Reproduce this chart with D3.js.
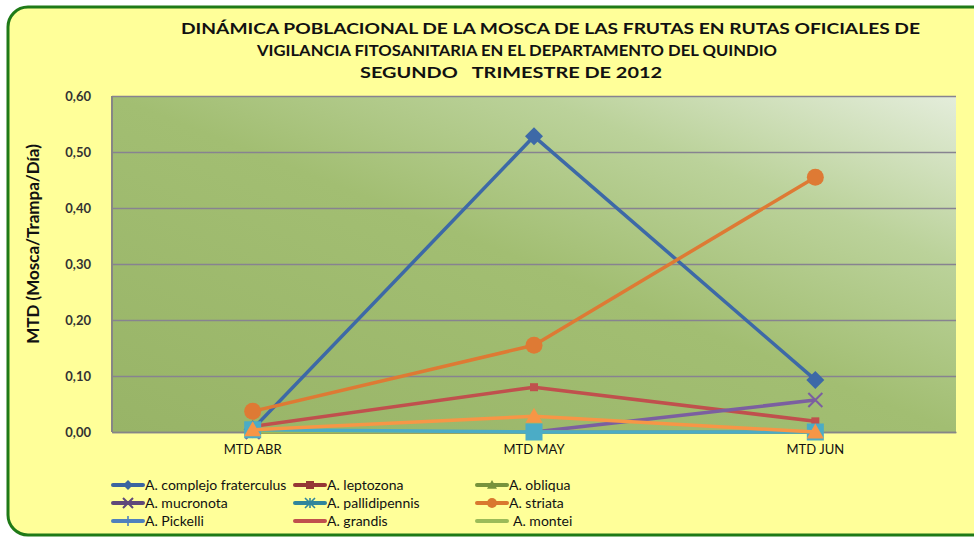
<!DOCTYPE html>
<html><head><meta charset="utf-8">
<script src="https://cdn.jsdelivr.net/npm/d3@7"></script>
<style>
html,body{margin:0;padding:0;background:#fff;}
svg{display:block;font-family:Lato,"Open Sans",sans-serif;}
text{white-space:pre;}
</style></head>
<body>
<svg id="chart" width="974" height="538"></svg>
<script>
// ---------- DATA ----------
const categories = ["MTD ABR", "MTD MAY", "MTD JUN"];
const yTicks = [0, 0.1, 0.2, 0.3, 0.4, 0.5, 0.6];
const titleLines = [
  "DINÁMICA POBLACIONAL DE LA MOSCA DE LAS FRUTAS EN RUTAS OFICIALES DE",
  "VIGILANCIA FITOSANITARIA EN EL DEPARTAMENTO DEL QUINDIO",
  "SEGUNDO   TRIMESTRE DE 2012"
];
const yTitle = "MTD (Mosca/Trampa/Día)";
const seriesNames = ["A. complejo fraterculus","A. leptozona","A. obliqua","A. mucronota","A. pallidipennis","A. striata","A. Pickelli","A. grandis","A. montei","Serie 10","Serie 11"];
const complejoFraterculus = [0.005, 0.528, 0.093];
const leptozona = [0.010, 0.080, 0.019];
const obliqua = [0, 0, 0];
const mucronota = [0, 0, 0.057];
const pallidipennis = [0, 0, 0];
const striata = [0.037, 0.155, 0.455];
const pickelli = [0, 0, 0];
const grandis = [0, 0, 0];
const montei = [0, 0, 0];
const serie10 = [0.004, 0, 0];
const serie11 = [0.004, 0.028, 0];
const seriesValues = [complejoFraterculus, leptozona, obliqua, mucronota, pallidipennis, striata, pickelli, grandis, montei, serie10, serie11];
const seriesInLegend = [true,true,true,true,true,true,true,true,true,false,false];

// ---------- STYLES ----------
const lineColors = ["#3D69A7","#C0504D","#77933C","#7B5FA0","#31859C","#DE7A34","#4F81BD","#C0504D","#9BBB59","#4BACC6","#F79646"];
const legendColors = ["#3B64A0","#953735","#77933C","#5F497A","#31859C","#D9782F","#4F81BD","#C0504D","#9BBB59"];
const markers = ["diamond","square","triangle","x","star","circle","plus","none","none","square","triangle"];
const markerSize = [9,4,7,7,6,8.5,6,0,0,8.5,8.5];

const svg = d3.select("#chart");
const W = 974, H = 538;
const plot = {left:112, right:956, top:96, bottom:432};

// background
svg.append("rect").attr("width",W).attr("height",H).attr("fill","#fff");
svg.append("rect").attr("x",8).attr("y",7).attr("width",1000).attr("height",528)
  .attr("rx",20).attr("fill","#FFFF99").attr("stroke","#1F7A17").attr("stroke-width",3);

const defs = svg.append("defs");
const grad = defs.append("linearGradient").attr("id","pg")
  .attr("x1",0).attr("y1",1).attr("x2",1).attr("y2",0);
[[0,"#98B467"],[0.5,"#A2BE72"],[0.75,"#BBD29A"],[1,"#E4EDDB"]].forEach(s=>
  grad.append("stop").attr("offset",s[0]).attr("stop-color",s[1]));

// scales
const x = d3.scaleBand().domain(categories).range([plot.left, plot.right]);
const cx = c => x(c) + x.bandwidth()/2;
const y = d3.scaleLinear().domain([0,0.6]).range([plot.bottom, plot.top]);

svg.append("rect").attr("x",plot.left).attr("y",plot.top)
  .attr("width",plot.right-plot.left).attr("height",plot.bottom-plot.top)
  .attr("fill","url(#pg)");

// grid
const loc = d3.formatLocale({decimal:",", thousands:".", grouping:[3], currency:["",""]});
const fmt = loc.format(".2f");
const gy = svg.append("g").attr("transform",`translate(${plot.left},0)`)
  .call(d3.axisLeft(y).tickValues(yTicks).tickFormat(fmt).tickSize(-(plot.right-plot.left)).tickPadding(21));
gy.select(".domain").remove();
gy.selectAll(".tick line").attr("stroke","#878390").attr("stroke-width",1.3);
gy.selectAll(".tick text").attr("font-size",13).attr("font-weight","bold").attr("fill","#333")
  .attr("font-family","Lato, sans-serif");
svg.append("line").attr("x1",plot.left).attr("x2",plot.left).attr("y1",plot.top).attr("y2",plot.bottom)
  .attr("stroke","#868686").attr("stroke-width",2);

// x axis labels
const gx = svg.append("g").attr("transform",`translate(0,${plot.bottom})`)
  .call(d3.axisBottom(x).tickSize(0).tickPadding(13));
gx.select(".domain").attr("stroke","#868686").attr("stroke-width",1.3);
gx.selectAll(".tick text").attr("font-size",13).attr("fill","#111")
  .attr("font-family","Lato, sans-serif");

// marker symbol
function drawMarker(g, type, px, py, s, color){
  if(type==="none") return;
  if(type==="diamond"){
    g.append("path").attr("d",`M${px},${py-s}L${px+s},${py}L${px},${py+s}L${px-s},${py}Z`).attr("fill",color);
  } else if(type==="square"){
    g.append("rect").attr("x",px-s).attr("y",py-s).attr("width",2*s).attr("height",2*s).attr("fill",color);
  } else if(type==="triangle"){
    g.append("path").attr("d",`M${px},${py-s}L${px+s},${py+s*0.75}L${px-s},${py+s*0.75}Z`).attr("fill",color);
  } else if(type==="circle"){
    g.append("circle").attr("cx",px).attr("cy",py).attr("r",s).attr("fill",color);
  } else if(type==="x"){
    g.append("path").attr("d",`M${px-s},${py-s}L${px+s},${py+s}M${px+s},${py-s}L${px-s},${py+s}`)
      .attr("stroke",color).attr("stroke-width",2);
  } else if(type==="star"){
    g.append("path").attr("d",`M${px-s},${py-s}L${px+s},${py+s}M${px+s},${py-s}L${px-s},${py+s}M${px},${py-s}L${px},${py+s}`)
      .attr("stroke",color).attr("stroke-width",1.6);
  } else if(type==="plus"){
    g.append("path").attr("d",`M${px-s},${py}L${px+s},${py}M${px},${py-s}L${px},${py+s}`)
      .attr("stroke",color).attr("stroke-width",1.6);
  }
}

// lines
const line = d3.line().x((d,i)=>cx(categories[i])).y(d=>y(d));
const gl = svg.append("g");
seriesValues.forEach((vals,si)=>{
  const g = gl.append("g");
  g.append("path").datum(vals).attr("d",line).attr("fill","none")
    .attr("stroke",lineColors[si]).attr("stroke-width",3.5).attr("stroke-linejoin","round");
  vals.forEach((v,i)=>drawMarker(g, markers[si], cx(categories[i]), y(v), markerSize[si], lineColors[si]));
});

// title
const titleX = [181, 257, 360];
const titleW = [739, 520, 302];
const titleY = [34, 56, 78];
titleLines.forEach((t,i)=>{
  svg.append("text").attr("x",titleX[i]).attr("y",titleY[i]).text(t)
    .attr("xml:space","preserve")
    .attr("font-size",16).attr("font-weight","bold").attr("fill","#111")
    .attr("textLength",titleW[i]).attr("lengthAdjust","spacingAndGlyphs");
});

// y title
svg.append("text").attr("transform","translate(39,244) rotate(-90)").attr("text-anchor","middle")
  .attr("font-size",17).attr("font-weight","bold").attr("fill","#111").text(yTitle);

// legend
const legCols = [113, 295, 477];
const legRows = [485, 503, 521];
let li = 0;
seriesNames.forEach((n,si)=>{
  if(!seriesInLegend[si]) return;
  const col = li % 3, row = Math.floor(li/3); li++;
  const lx = legCols[col], ly = legRows[row];
  const g = svg.append("g");
  g.append("line").attr("x1",lx).attr("x2",lx+30).attr("y1",ly).attr("y2",ly)
    .attr("stroke",legendColors[si]).attr("stroke-width",4).attr("stroke-linecap","round");
  drawMarker(g, markers[si], lx+15, ly, Math.min(markerSize[si],5), legendColors[si]);
  g.append("text").attr("x",lx+32+(markers[si]==="none"&&si===8?4:0)).attr("y",ly+5).text(n)
    .attr("font-size",14).attr("fill","#111");
});
</script>
</body></html>
